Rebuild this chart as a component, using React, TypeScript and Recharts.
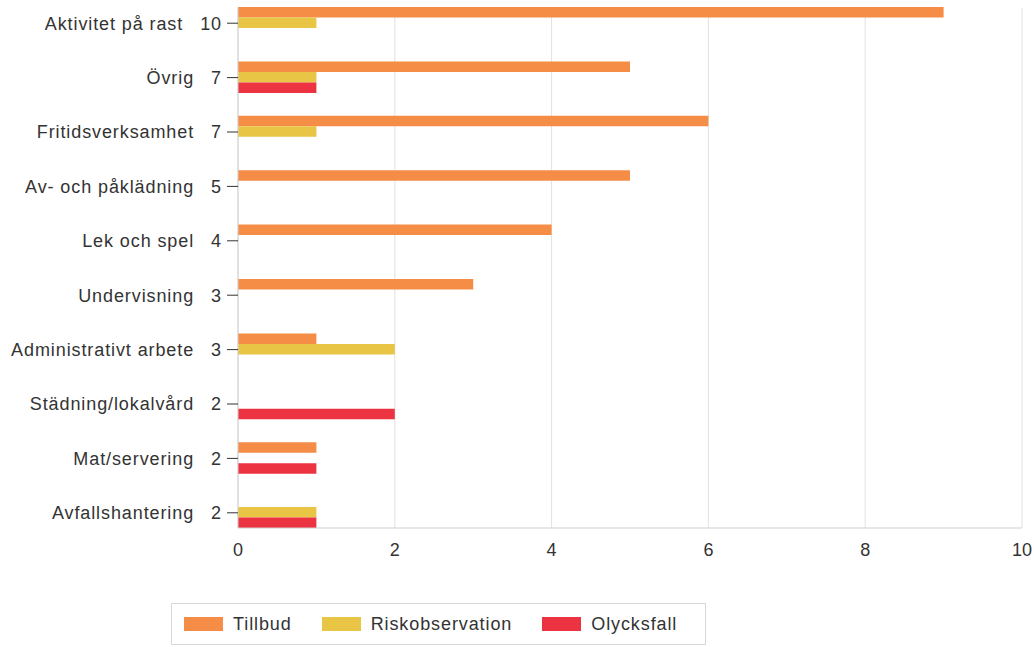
import { BarChart, Bar, XAxis, YAxis, CartesianGrid } from 'recharts';

const categories = [
  'Aktivitet på rast',
  'Övrig',
  'Fritidsverksamhet',
  'Av- och påklädning',
  'Lek och spel',
  'Undervisning',
  'Administrativt arbete',
  'Städning/lokalvård',
  'Mat/servering',
  'Avfallshantering',
];
const totals = [10, 7, 7, 5, 4, 3, 3, 2, 2, 2];
const tillbud = [9, 5, 6, 5, 4, 3, 1, 0, 1, 0];
const riskobservation = [1, 1, 1, 0, 0, 0, 2, 0, 0, 1];
const olycksfall = [0, 1, 0, 0, 0, 0, 0, 2, 1, 1];
const xTicks = [0, 2, 4, 6, 8, 10];

const series = [
  { key: 'tillbud', name: 'Tillbud', color: '#F58D47' },
  { key: 'riskobservation', name: 'Riskobservation', color: '#E8C545' },
  { key: 'olycksfall', name: 'Olycksfall', color: '#EC3341' },
];

const data = categories.map((name, i) => ({
  name,
  total: totals[i],
  tillbud: tillbud[i],
  riskobservation: riskobservation[i],
  olycksfall: olycksfall[i],
}));

const FONT = 'Arial, "Liberation Sans", sans-serif';

function CategoryTick(props: any) {
  const { x, y, payload } = props;
  const i = payload.index;
  return (
    <text
      x={x - 5}
      y={y}
      dy="0.35em"
      textAnchor="end"
      fontFamily={FONT}
      fontSize={18}
      letterSpacing={0.9}
      fill="#333"
    >
      <tspan>{categories[i]}</tspan>
      <tspan dx={17}>{totals[i]}</tspan>
    </text>
  );
}

export default function App() {
  return (
    <div style={{ position: 'relative', width: 1034, height: 647, background: '#fff' }}>
      <style>{'body{margin:0;overflow:hidden}'}</style>
      <BarChart
        width={1034}
        height={647}
        data={data}
        layout="vertical"
        margin={{ top: 8, right: 12, left: 0, bottom: 89 }}
        barGap={0}
        barSize={10.5}
      >
        <CartesianGrid horizontal={false} stroke="#e2e2e2" />
        <XAxis
          type="number"
          domain={[0, 10]}
          ticks={xTicks}
          height={30}
          tickLine={false}
          axisLine={{ stroke: '#cfcfcf' }}
          tickMargin={9}
          tick={{ fontFamily: FONT, fontSize: 18, fill: '#333' }}
        />
        <YAxis
          type="category"
          dataKey="name"
          width={238}
          padding={{ top: -12, bottom: -12 }}
          axisLine={{ stroke: '#cfcfcf' }}
          tickLine={{ stroke: '#333' }}
          tickSize={11}
          tickMargin={0}
          interval={0}
          tick={<CategoryTick />}
        />
        {series.map((s) => (
          <Bar key={s.key} dataKey={s.key} name={s.name} fill={s.color} isAnimationActive={false} />
        ))}
      </BarChart>
      <div
        style={{
          position: 'absolute',
          left: 171,
          top: 603,
          width: 533,
          height: 40,
          border: '1px solid #d8d8d8',
          display: 'flex',
          alignItems: 'center',
          fontFamily: FONT,
          fontSize: 18,
          letterSpacing: 0.9,
          color: '#333',
        }}
      >
        {series.map((s, i) => (
          <div
            key={s.key}
            style={{ display: 'flex', alignItems: 'center', marginLeft: i === 0 ? 12 : 30 }}
          >
            <span style={{ display: 'inline-block', width: 39, height: 14, background: s.color, marginRight: 10 }} />
            <span>{s.name}</span>
          </div>
        ))}
      </div>
    </div>
  );
}
